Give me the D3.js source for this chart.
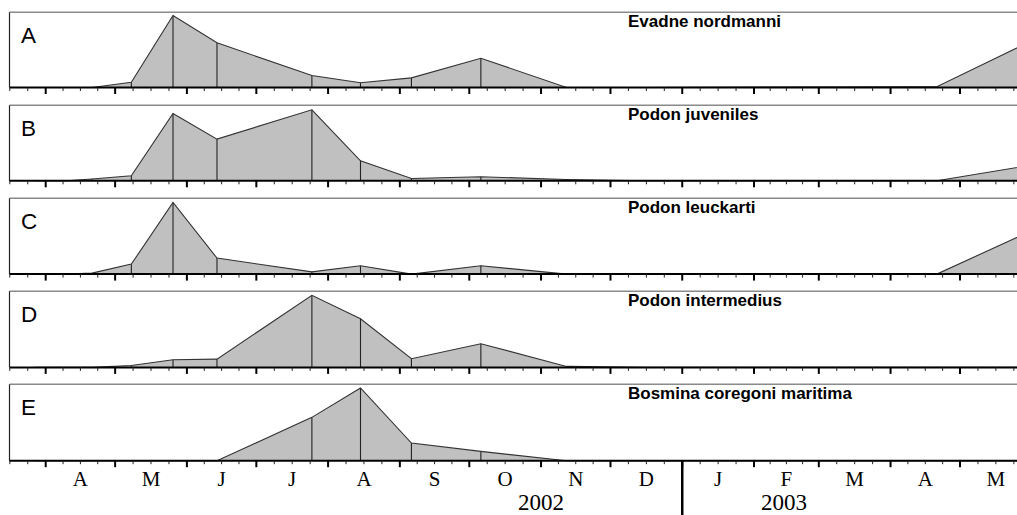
<!DOCTYPE html>
<html>
<head>
<meta charset="utf-8">
<script src="https://cdn.jsdelivr.net/npm/d3@7"></script>
<style>
  html, body { margin: 0; padding: 0; background: #fff; }
  svg { display: block; }
</style>
</head>
<body>
<svg id="chart" width="1017" height="515"></svg>
<script>
// ---- data ----
const sampleDates = ["2002-03-27","2002-04-10","2002-04-21","2002-05-08","2002-05-26","2002-06-14",
  "2002-07-25","2002-08-15","2002-09-06","2002-10-06","2002-11-12","2002-12-16",
  "2003-04-10","2003-04-21","2003-06-02"];
const panelLetters = ["A","B","C","D","E"];
const speciesNames = ["Evadne nordmanni","Podon juveniles","Podon leuckarti","Podon intermedius","Bosmina coregoni maritima"];
// relative abundance (% of panel maximum scale)
const evadne     = [0, 0, 0,   7, 95.4, 59.2, 15.9,  6.2, 12.8, 38.8, 0,   0, 1, 1, 63.6];
const podonJuv   = [0, 0, 2.3, 6.6, 89.1, 55.2, 94.0, 26.5, 3.0, 5.3, 1.7, 0, 0, 0, 21.3];
const podonLeuck = [0, 0, 1.3, 13.2, 94.8, 21.2, 3.0, 11.0, 0,  11.0, 0,  0, 0, 0, 59.0];
const podonInter = [0, 0, 0,   2.6, 10.2, 11.0, 95.4, 64.5, 11.5, 31.4, 1.3, 0, 0, 0, 0];
const bosmina    = [0, 0, 0,   0,   0,    0,    57.4, 96.3, 23.4, 12.3, 0,   0, 0, 0, 0];
const monthLabels = ["A","M","J","J","A","S","O","N","D","J","F","M","A","M"];
const monthLabelStarts = ["2002-04-01","2002-05-01","2002-06-01","2002-07-01","2002-08-01","2002-09-01",
  "2002-10-01","2002-11-01","2002-12-01","2003-01-01","2003-02-01","2003-03-01","2003-04-01","2003-05-01"];
const yearLabels = ["2002","2003"];

const series = [evadne, podonJuv, podonLeuck, podonInter, bosmina];

// ---- layout ----
const svg = d3.select("#chart");
const W = 1017, H = 515;
const left = 9.5, right = 1017;
const parse = d3.utcParse("%Y-%m-%d");
const dates = sampleDates.map(parse);

const x = d3.scaleUtc()
  .domain([parse("2002-04-01"), parse("2003-05-01")])
  .range([45.7, 960]);

const panelTops = [12.3, 105.3, 198.3, 291.3, 384.3];
const panelBase = [87.5, 180.8, 274.1, 367.4, 460.7];
const panelH = 75.5;

const defs = svg.append("defs");
defs.append("clipPath").attr("id","clip")
  .append("rect").attr("x", left).attr("y", 0).attr("width", right - left).attr("height", H);

// tick positions
const monthStarts = d3.utcMonth.range(parse("2002-03-01"), parse("2003-07-01"));
const majorTicks = monthStarts.map(d => x(d)).filter(v => v > left && v < right);
const minorTicks = [];
for (let i = 0; i < monthStarts.length - 1; i++) {
  const a = x(monthStarts[i]), b = x(monthStarts[i+1]);
  for (let k = 1; k < 4; k++) {
    const v = a + (b - a) * k / 4;
    if (v > left && v < right) minorTicks.push(v);
  }
}

series.forEach((vals, i) => {
  const top = panelTops[i], base = panelBase[i];
  const y = d3.scaleLinear().domain([0, 100]).range([base, base - panelH]);
  const pts = dates.map((d, j) => ({date: d, v: vals[j]}));
  const g = svg.append("g");

  // frame: top border (grey), left border
  g.append("line").attr("x1", left).attr("x2", right).attr("y1", top).attr("y2", top)
    .attr("stroke", "#8a8a8a").attr("stroke-width", 1.5);
  g.append("line").attr("x1", left).attr("x2", left).attr("y1", top).attr("y2", base)
    .attr("stroke", "#222").attr("stroke-width", 1.2);

  const plot = g.append("g").attr("clip-path", "url(#clip)");
  const area = d3.area().x(d => x(d.date)).y0(base).y1(d => y(d.v));
  const line = d3.line().x(d => x(d.date)).y(d => y(d.v));
  plot.append("path").attr("d", area(pts)).attr("fill", "#c0c0c0").attr("stroke", "none");
  plot.selectAll(".vl").data(pts.filter(d => d.v > 0)).enter().append("line")
    .attr("x1", d => x(d.date)).attr("x2", d => x(d.date))
    .attr("y1", base).attr("y2", d => y(d.v))
    .attr("stroke", "#222").attr("stroke-width", 1.1);
  plot.append("path").attr("d", line(pts)).attr("fill", "none")
    .attr("stroke", "#333").attr("stroke-width", 1.1);

  // baseline axis
  g.append("line").attr("x1", left).attr("x2", right).attr("y1", base).attr("y2", base)
    .attr("stroke", "#000").attr("stroke-width", 2);
  g.selectAll(".mt").data(majorTicks).enter().append("line")
    .attr("x1", d => d).attr("x2", d => d).attr("y1", base).attr("y2", base + 6.5)
    .attr("stroke", "#000").attr("stroke-width", 2);
  g.selectAll(".nt").data(minorTicks).enter().append("line")
    .attr("x1", d => d).attr("x2", d => d).attr("y1", base).attr("y2", base + 3.5)
    .attr("stroke", "#222").attr("stroke-width", 1);

  // labels
  g.append("text").attr("x", 21).attr("y", top + 31)
    .attr("font-family", "Liberation Sans, Arial, sans-serif").attr("font-size", 22.5)
    .attr("fill", "#000").text(panelLetters[i]);
  g.append("text").attr("x", 628).attr("y", top + 14.5)
    .attr("font-family", "Liberation Sans, Arial, sans-serif").attr("font-size", 17)
    .attr("font-weight", "bold").attr("fill", "#000").text(speciesNames[i]);
});

// month labels
const mls = monthLabelStarts.map(parse);
svg.selectAll(".ml").data(monthLabels).enter().append("text")
  .attr("x", (d, i) => {
    const a = mls[i];
    const b = d3.utcMonth.offset(a, 1);
    return (x(a) + x(b)) / 2;
  })
  .attr("y", 485.5)
  .attr("text-anchor", "middle")
  .attr("font-family", "Liberation Serif, Times New Roman, serif")
  .attr("font-size", 21).attr("fill", "#000")
  .text(d => d);

// year divider and labels
const jan = x(parse("2003-01-01"));
svg.append("line").attr("x1", jan).attr("x2", jan).attr("y1", panelBase[4]).attr("y2", H)
  .attr("stroke", "#000").attr("stroke-width", 2.5);
svg.append("text").attr("x", x(parse("2002-11-01"))).attr("y", 509.5)
  .attr("text-anchor", "middle")
  .attr("font-family", "Liberation Serif, Times New Roman, serif")
  .attr("font-size", 23).attr("fill", "#000").text(yearLabels[0]);
svg.append("text").attr("x", x(parse("2003-02-14"))).attr("y", 510)
  .attr("text-anchor", "middle")
  .attr("font-family", "Liberation Serif, Times New Roman, serif")
  .attr("font-size", 23).attr("fill", "#000").text(yearLabels[1]);
</script>
</body>
</html>
